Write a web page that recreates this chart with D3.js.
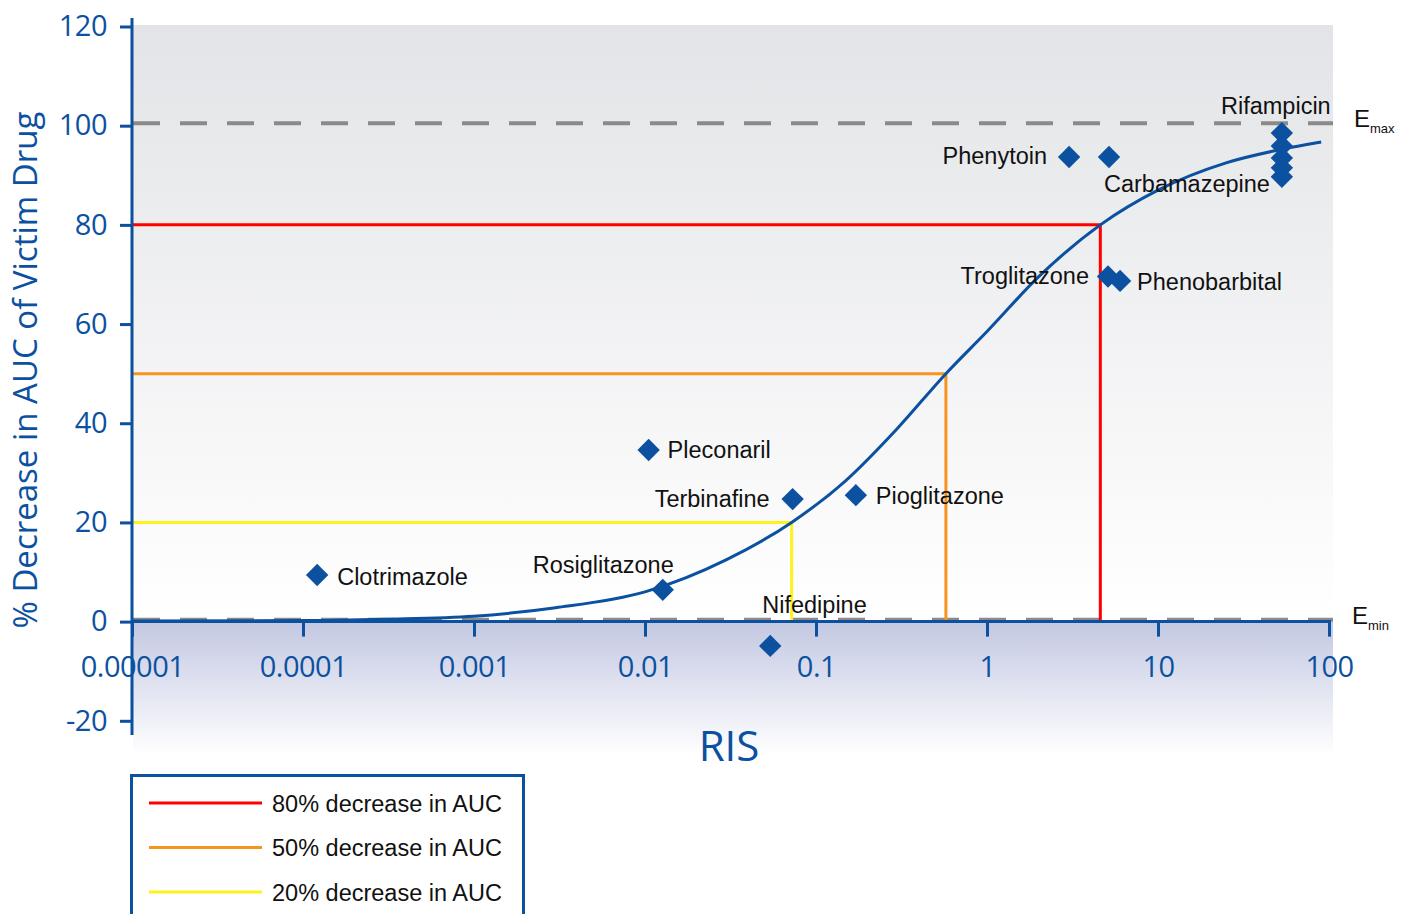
<!DOCTYPE html>
<html>
<head>
<meta charset="utf-8">
<script src="https://cdn.jsdelivr.net/npm/d3@7"></script>
<style>
  html, body { margin: 0; padding: 0; background: #fff; }
  svg { display: block; }
</style>
</head>
<body>
<svg id="chart" width="1405" height="914"></svg>
<script>
// ── Data ───────────────────────────────────────────────────────────────────

const xTicks = [1e-5, 1e-4, 1e-3, 0.01, 0.1, 1, 10, 100];
const xTickLabels = ['0.00001', '0.0001', '0.001', '0.01', '0.1', '1', '10', '100'];
const yTicks = [-20, 0, 20, 40, 60, 80, 100, 120];

// fitted RIS curve
const curveRis = [1e-5, 1e-4, 3e-4, 1e-3, 3e-3, 0.01, 0.03, 0.072, 0.15, 0.3, 0.575, 1, 2, 4.6, 10, 25, 54, 90];
const curvePct = [0.1, 0.2, 0.5, 1.1, 2.8, 6.0, 12.5, 20, 28.5, 39, 50, 58.5, 69.5, 80, 87, 92.5, 95.3, 96.7];

// drugs (diamonds)
const drugNames = ['Clotrimazole', 'Rosiglitazone', 'Nifedipine', 'Pleconaril', 'Terbinafine', 'Pioglitazone',
  'Phenytoin', 'Carbamazepine', 'Troglitazone', 'Phenobarbital',
  'Rifampicin', 'Rifampicin', 'Rifampicin', 'Rifampicin', 'Rifampicin'];
const drugRis = [1.21e-4, 0.0127, 0.054, 0.0105, 0.073, 0.171,
  3.02, 5.17, 5.10, 6.0,
  53, 53, 53, 53, 53];
const drugPct = [9.4, 6.4, -4.9, 34.6, 24.7, 25.5,
  93.7, 93.7, 69.6, 68.7,
  98.5, 95.9, 93.5, 91.5, 89.7];

// threshold guide lines
const thresholdPct = [80, 50, 20];
const thresholdRis = [4.6, 0.575, 0.072];
const thresholdLabels = ['80% decrease in AUC', '50% decrease in AUC', '20% decrease in AUC'];

const emaxLevel = 100.5, eminLevel = 0.4;

// ── Layout ─────────────────────────────────────────────────────────────────
const BLUE = '#0b51a0';
const thresholdColors = ['#ff0000', '#f7941d', '#fff21c'];
const svg = d3.select('#chart');

const x = d3.scaleLog().domain([1e-5, 100]).range([132, 1329]);
const y = d3.scaleLinear().domain([-20, 120]).range([720.8, 26.5]);

const defs = svg.append('defs');
const gTop = defs.append('linearGradient').attr('id', 'bgTop').attr('x1', 0).attr('x2', 0).attr('y1', 0).attr('y2', 1);
gTop.append('stop').attr('offset', '0%').attr('stop-color', '#e3e4e7');
gTop.append('stop').attr('offset', '100%').attr('stop-color', '#ffffff');
const gBot = defs.append('linearGradient').attr('id', 'bgBot').attr('x1', 0).attr('x2', 0).attr('y1', 0).attr('y2', 1);
gBot.append('stop').attr('offset', '0%').attr('stop-color', '#c3c8e2');
gBot.append('stop').attr('offset', '100%').attr('stop-color', '#ffffff');

svg.append('rect').attr('x', 133).attr('y', 25).attr('width', 1200).attr('height', y(0) - 25).attr('fill', 'url(#bgTop)');
svg.append('rect').attr('x', 133).attr('y', y(0)).attr('width', 1200).attr('height', 755 - y(0)).attr('fill', 'url(#bgBot)');

// Emax / Emin dashed lines
[emaxLevel, eminLevel].forEach(v => {
  svg.append('line').attr('x1', 133).attr('x2', 1333).attr('y1', y(v)).attr('y2', y(v))
    .attr('stroke', '#8a8a8a').attr('stroke-width', 4).attr('stroke-dasharray', '27,20');
});

// threshold guides
thresholdPct.forEach((p, i) => {
  svg.append('path')
    .attr('d', `M${x(1e-5)},${y(p)}H${x(thresholdRis[i])}V${y(0)}`)
    .attr('fill', 'none').attr('stroke', thresholdColors[i]).attr('stroke-width', 3);
});

// curve
const curveData = curveRis.map((r, i) => [r, curvePct[i]]);
svg.append('path').datum(curveData)
  .attr('d', d3.line().x(d => x(d[0])).y(d => y(d[1])).curve(d3.curveMonotoneX))
  .attr('fill', 'none').attr('stroke', BLUE).attr('stroke-width', 3);

// axes
const xAxis = d3.axisBottom(x).tickValues(xTicks).tickFormat((d, i) => xTickLabels[i])
  .tickSize(15).tickSizeOuter(0).tickPadding(20);
const gx = svg.append('g').attr('transform', `translate(0,${y(0)})`).call(xAxis);
const yAxis = d3.axisLeft(y).tickValues(yTicks).tickFormat(d => String(d))
  .tickSize(12).tickSizeOuter(0).tickPadding(13);
const gy = svg.append('g').attr('transform', 'translate(132,0)').call(yAxis);
[gx, gy].forEach(g => {
  g.select('.domain').remove();
  g.selectAll('.tick line').attr('stroke', BLUE).attr('stroke-width', 3);
  g.selectAll('.tick text').attr('fill', BLUE).attr('font-family', 'Open Sans')
    .attr('font-size', 29).attr('letter-spacing', '-0.5px');
});
svg.append('line').attr('x1', 132).attr('x2', 1331).attr('y1', y(0)).attr('y2', y(0))
  .attr('stroke', BLUE).attr('stroke-width', 3);
svg.append('line').attr('x1', 132).attr('x2', 132).attr('y1', 18).attr('y2', 735)
  .attr('stroke', BLUE).attr('stroke-width', 3);

// axis titles
svg.append('text').attr('transform', 'translate(37,370) rotate(-90)')
  .attr('text-anchor', 'middle').attr('font-family', 'Open Sans').attr('font-size', 33)
  .attr('fill', BLUE).text('% Decrease in AUC of Victim Drug');
svg.append('text').attr('x', 729).attr('y', 761).attr('text-anchor', 'middle')
  .attr('font-family', 'Open Sans').attr('font-size', 42).attr('fill', BLUE).text('RIS');

// E max / E min
[[emaxLevel, 'max', 1354, 127], [eminLevel, 'min', 1352, 624]].forEach(([v, sub, ex, ey]) => {
  const t = svg.append('text').attr('x', ex).attr('y', ey)
    .attr('font-family', 'Liberation Sans').attr('font-size', 24).attr('fill', '#111');
  t.append('tspan').text('E');
  t.append('tspan').attr('font-size', 13).attr('dy', 6).text(sub);
});

// diamonds
const diamond = d3.symbol().type(d3.symbolDiamond2).size(320);
drugNames.forEach((n, i) => {
  svg.append('path').attr('d', diamond)
    .attr('transform', `translate(${x(drugRis[i])},${y(drugPct[i])})`)
    .attr('fill', BLUE);
});

// labels: [anchor, dx, dy]
const labelPlace = {
  Clotrimazole:  ['start', 20, 10],
  Rosiglitazone: ['end', 11, -17],
  Nifedipine:    ['start', -8, -33],
  Pleconaril:    ['start', 19, 8],
  Terbinafine:   ['end', -23, 8],
  Pioglitazone:  ['start', 20, 9],
  Phenytoin:     ['end', -22, 7],
  Carbamazepine: ['start', -5, 35],
  Troglitazone:  ['end', -19, 8],
  Phenobarbital: ['start', 17, 9],
  Rifampicin:    ['middle', -6, -19],
};
const seen = new Set();
drugNames.forEach((n, i) => {
  if (seen.has(n)) return;
  seen.add(n);
  const [anchor, dx, dy] = labelPlace[n];
  svg.append('text').attr('x', x(drugRis[i]) + dx).attr('y', y(drugPct[i]) + dy)
    .attr('text-anchor', anchor).attr('font-family', 'Liberation Sans').attr('font-size', 23.5)
    .attr('fill', '#111').text(n);
});

// legend
svg.append('rect').attr('x', 131.5).attr('y', 775.5).attr('width', 392).attr('height', 160)
  .attr('fill', '#fff').attr('stroke', BLUE).attr('stroke-width', 3);
thresholdLabels.forEach((lab, i) => {
  const ly = 803 + i * 44.5;
  svg.append('line').attr('x1', 149).attr('x2', 262).attr('y1', ly).attr('y2', ly)
    .attr('stroke', thresholdColors[i]).attr('stroke-width', 3);
  svg.append('text').attr('x', 272).attr('y', ly + 8.5).attr('font-family', 'Liberation Sans')
    .attr('font-size', 23.5).attr('fill', '#111').text(lab);
});
</script>
</body>
</html>
